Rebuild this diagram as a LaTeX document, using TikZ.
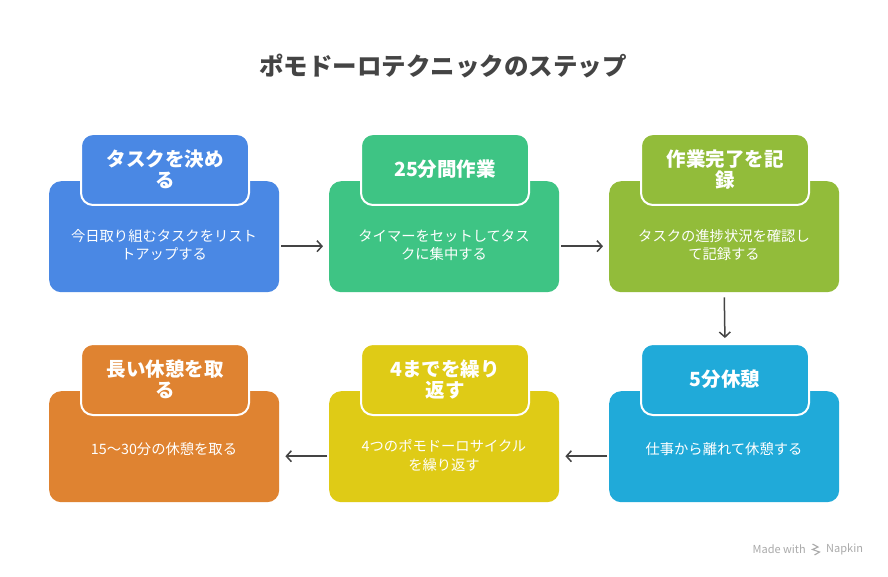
\documentclass[tikz,border=0pt]{standalone}
\usepackage{fontspec}
\setmainfont{Noto Sans CJK JP}
\usetikzlibrary{arrows.meta,calc}
\definecolor{cblue}{HTML}{4A88E4}
\definecolor{cgreen}{HTML}{3EC484}
\definecolor{colive}{HTML}{92BC3A}
\definecolor{ccyan}{HTML}{20AAD9}
\definecolor{cyellow}{HTML}{DFCB16}
\definecolor{corange}{HTML}{DF8331}
\definecolor{ctitle}{HTML}{444444}
\definecolor{carrow}{HTML}{444444}
\definecolor{cnapkin}{HTML}{AAAAAA}
\tikzset{
  bodybox/.style={rectangle, rounded corners=12pt, minimum width=230pt, minimum height=111pt, inner sep=0pt, anchor=north west},
  hdrbox/.style={rectangle, rounded corners=12pt, draw=white, line width=2pt, minimum width=168pt, minimum height=71pt, inner sep=0pt, anchor=north west},
  hdrtext/.style={text=white, font=\bfseries\fontsize{19.5}{21.5}\selectfont, align=center, inner sep=0pt},
  bodytext/.style={text=white, font=\fontsize{14.3}{18.5}\selectfont, align=center, inner sep=0pt},
  arr/.style={draw=carrow, line width=1.5pt, -{Straight Barb[length=5pt,width=11pt,line width=1.5pt]}},
}
% #7 = vertical offset of body text centre from body top
\newcommand\stepcard[7]{%
  \node[bodybox, fill=#4] (#1b) at (#2,#3) {};
  \node[hdrbox, fill=#4] (#1h) at ($(#2,#3)+(31,-48)$) {};
  \node[hdrtext] (#1ht) at (#1h.center) {#5};
  \node[bodytext] (#1bt) at ($(#2,#3)+(115,#7)$) {#6};
}
\begin{document}
\begin{tikzpicture}[x=1pt,y=-1pt]
\useasboundingbox[fill=white] (0,0) rectangle (888,577);
\node[text=ctitle, font=\bfseries\fontsize{24.5}{28}\selectfont, inner sep=0pt] (title) at (443,66) {ポモドーロテクニックのステップ};
\stepcard{c1}{49}{181}{cblue}{タスクを決め\\る}{今日取り組むタスクをリスト\\トアップする}{64}
\stepcard{c2}{329}{181}{cgreen}{25分間作業}{タイマーをセットしてタス\\クに集中する}{64}
\stepcard{c3}{609}{181}{colive}{作業完了を記\\録}{タスクの進捗状況を確認し\\て記録する}{64}
\stepcard{c4}{609}{391}{ccyan}{5分休憩}{仕事から離れて休憩する}{58.5}
\stepcard{c5}{329}{391}{cyellow}{4までを繰り\\返す}{4つのポモドーロサイクル\\を繰り返す}{64.5}
\stepcard{c6}{49}{391}{corange}{長い休憩を取\\る}{15〜30分の休憩を取る}{58.5}
\draw[arr, shorten <=2pt, shorten >=6pt] ([yshift=-9.5pt]c1b.east) -- ([yshift=-9.5pt]c2b.west);
\draw[arr, shorten <=2pt, shorten >=6pt] ([yshift=-9.5pt]c2b.east) -- ([yshift=-9.5pt]c3b.west);
\draw[arr, shorten <=5pt, shorten >=5pt] (c3b.south) -- (c4h.north);
\draw[arr, shorten <=2pt, shorten >=6pt] ([yshift=-9.5pt]c4b.west) -- ([yshift=-9.5pt]c5b.east);
\draw[arr, shorten <=2pt, shorten >=6pt] ([yshift=-9.5pt]c5b.west) -- ([yshift=-9.5pt]c6b.east);
\node[text=cnapkin, font=\fontsize{11}{12}\selectfont, inner sep=0pt, anchor=east] (made) at (806,549) {Made with};
\coordinate (logo) at (816,549);
\draw[cnapkin, line width=1.1pt] ($(logo)+(-3.5,-5)$) -- ($(logo)+(2,-2)$) -- ($(logo)+(-3.5,0.5)$) -- ($(logo)+(3.5,3)$) -- ($(logo)+(-1.5,6)$);
\node[text=cnapkin, font=\fontsize{11}{12}\selectfont, inner sep=0pt, anchor=west] (napkin) at (826,549) {Napkin};
\end{tikzpicture}
\end{document}
